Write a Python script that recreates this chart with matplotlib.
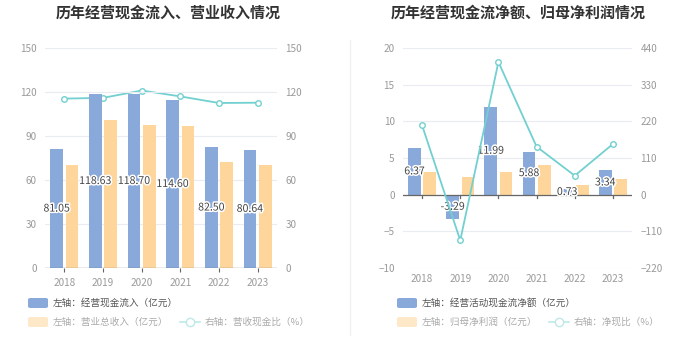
import numpy as np
import matplotlib
matplotlib.use("Agg")
import matplotlib.pyplot as plt
import matplotlib.patheffects as pe
from matplotlib.patches import FancyBboxPatch
from matplotlib.lines import Line2D

plt.rcParams['font.family'] = ['Noto Sans CJK SC', 'DejaVu Sans']

years = ["2018", "2019", "2020", "2021", "2022", "2023"]

# left chart
cash_in = [81.05, 118.63, 118.70, 114.60, 82.50, 80.64]
revenue = [70.0, 101.0, 97.3, 96.8, 72.0, 70.3]
cash_ratio = [115.5, 116.0, 121.0, 117.0, 112.5, 112.7]

# right chart
net_cash = [6.37, -3.29, 11.99, 5.88, 0.73, 3.34]
net_profit = [3.1, 2.4, 3.05, 4.1, 1.3, 2.2]
net_ratio = [208, -137, 398, 144, 57, 152]

BLUE = "#88a9da"
ORANGE = "#fed59a"
TEAL = "#72d0d0"
GRID = "#e9ecf2"
TICK = "#9a9a9a"

fig = plt.figure(figsize=(6.99, 3.59), dpi=100)
W, H = 699, 359


def box(x0, y0, x1, y1):
    return [x0 / W, 1 - y1 / H, (x1 - x0) / W, (y1 - y0) / H]


def style(ax, ax2):
    for a in (ax, ax2):
        for s in a.spines.values():
            s.set_visible(False)
        a.tick_params(axis='y', length=0, labelsize=7.2, labelcolor=TICK, pad=6)
    ax.grid(axis='y', color=GRID, linewidth=0.8)
    ax.set_axisbelow(True)
    ax.tick_params(axis='x', length=3, color="#666666", labelsize=7.2,
                   labelcolor=TICK, pad=4)


def draw_labels(ax, x, vals):
    for xi, v in zip(x, vals):
        ax.text(xi - 0.2, v / 2, f"{v:.2f}", ha='center', va='center',
                fontsize=7.6, color="#444444",
                path_effects=[pe.withStroke(linewidth=2.2, foreground="white")],
                zorder=5)


x = np.arange(len(years))
bw = 0.33

# ---------- left chart ----------
ax = fig.add_axes(box(45, 48, 277, 268))
ax2 = ax.twinx()
ax.bar(x - 0.2, cash_in, bw, color=BLUE, zorder=2)
ax.bar(x + 0.2, revenue, bw, color=ORANGE, zorder=2)
ax.set_ylim(0, 150)
ax.set_yticks(np.arange(0, 151, 30))
ax.set_xlim(-0.5, 5.5)
ax.set_xticks(x)
ax.set_xticklabels(years)
ax.axhline(0, color="#666666", linewidth=0.9, zorder=3)
ax2.plot(x, cash_ratio, color=TEAL, linewidth=1.3, marker='o', markersize=4,
         markerfacecolor='white', markeredgecolor=TEAL, markeredgewidth=1, zorder=4)
ax2.set_ylim(0, 150)
ax2.set_yticks(np.arange(0, 151, 30))
style(ax, ax2)
ax.set_zorder(ax2.get_zorder() + 1)
ax.patch.set_visible(False)
draw_labels(ax, x, cash_in)

# ---------- right chart ----------
bx = fig.add_axes(box(403, 48, 632, 268))
bx2 = bx.twinx()
bx.bar(x - 0.2, net_cash, bw, color=BLUE, zorder=2)
bx.bar(x + 0.2, net_profit, bw, color=ORANGE, zorder=2)
bx.set_ylim(-10, 20)
bx.set_yticks(np.arange(-10, 21, 5))
bx.set_xlim(-0.5, 5.5)
bx.set_xticks(x)
bx.set_xticklabels(years)
bx.tick_params(axis='x', length=0)
bx.axhline(0, color="#666666", linewidth=0.9, zorder=3)
for xi in x:
    bx.plot([xi, xi], [0, -0.45], color="#666666", linewidth=0.9, zorder=3)
bx2.plot(x, net_ratio, color=TEAL, linewidth=1.3, marker='o', markersize=4,
         markerfacecolor='white', markeredgecolor=TEAL, markeredgewidth=1, zorder=4)
bx2.set_ylim(-220, 440)
bx2.set_yticks(np.arange(-220, 441, 110))
style(bx, bx2)
bx.tick_params(axis='x', length=0)
draw_labels(bx, x, net_cash)
bx2.set_zorder(bx.get_zorder() + 1)

# titles
fig.text(168 / W, 1 - 13 / H, "历年经营现金流入、营业收入情况", ha='center', va='center',
         fontsize=10.8, fontweight='bold', color="#333333")
fig.text(518 / W, 1 - 13 / H, "历年经营现金流净额、归母净利润情况", ha='center', va='center',
         fontsize=10.8, fontweight='bold', color="#333333")

# divider
fig.add_artist(Line2D([350 / W, 350 / W], [1 - 40 / H, 1 - 335 / H],
                      color="#f0f0f0", linewidth=1))


def legend_patch(x0, y, color):
    fig.add_artist(FancyBboxPatch((x0 / W, 1 - (y + 5) / H), 20 / W, 10 / H,
                                  boxstyle="round,pad=0,rounding_size=0.004",
                                  facecolor=color, edgecolor='none',
                                  transform=fig.transFigure))


def legend_line(x0, y):
    yy = 1 - y / H
    fig.add_artist(Line2D([x0 / W, (x0 + 20) / W], [yy, yy], color="#bfe9e9",
                          linewidth=1.2))
    fig.add_artist(Line2D([(x0 + 10) / W], [yy], marker='o', markersize=6,
                          markerfacecolor='white', markeredgecolor="#bfe9e9",
                          markeredgewidth=1))


def legend_text(x0, y, s, c):
    fig.text(x0 / W, 1 - y / H, s, ha='left', va='center', fontsize=6.9, color=c)


# left legend
legend_patch(28, 303, BLUE)
legend_text(53, 303, "左轴：经营现金流入（亿元）", "#555555")
legend_patch(28, 322, "#ffe8c8")
legend_text(53, 322, "左轴：营业总收入（亿元）", "#aaaaaa")
legend_line(180, 322)
legend_text(205, 322, "右轴：营收现金比（%）", "#aaaaaa")

# right legend
legend_patch(397, 303, BLUE)
legend_text(422, 303, "左轴：经营活动现金流净额（亿元）", "#555555")
legend_patch(397, 322, "#ffe8c8")
legend_text(422, 322, "左轴：归母净利润（亿元）", "#aaaaaa")
legend_line(549, 322)
legend_text(574, 322, "右轴：净现比（%）", "#aaaaaa")

fig.savefig("out.png", dpi=100)
